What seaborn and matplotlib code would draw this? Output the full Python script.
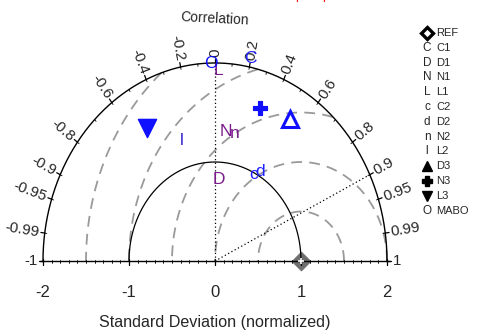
import numpy as np
import matplotlib
matplotlib.use("Agg")
import matplotlib.pyplot as plt
import seaborn as sns

# values (normalized std dev and correlation)
models = ["C1", "D1", "N1", "L1", "C2", "D2", "N2", "L2", "D3", "N3", "L3", "MABO"]
symbols = ["C", "D", "N", "L", "c", "d", "n", "l", "^", "P", "v", "O"]
stddev = [2.09, 0.82, 1.31, 1.92, 0.98, 1.04, 1.31, 1.28, 1.68, 1.63, 1.56, 2.00]
corr = [0.195, 0.057, 0.099, 0.018, 0.46, 0.50, 0.176, -0.30, 0.52, 0.32, -0.51, -0.023]
colors = ["#2020ff", "#7a1a8c", "#7a1a8c", "#7a1a8c", "#2020ff", "#2020ff",
          "#7a1a8c", "#3a2ad0", "#1010ff", "#1010ff", "#1010ff", "#1010ff"]

corr_ticks = [-1, -0.99, -0.95, -0.9, -0.8, -0.6, -0.4, -0.2, 0,
              0.2, 0.4, 0.6, 0.8, 0.9, 0.95, 0.99, 1]
corr_labels = ["-1", "-0.99", "-0.95", "-0.9", "-0.8", "-0.6", "-0.4", "-0.2", "0",
               "0.2", "0.4", "0.6", "0.8", "0.9", "0.95", "0.99", "1"]
std_ticks = [-2, -1, 0, 1, 2]
rms_radii = [0.5, 1.0, 1.5, 2.0, 2.5]
std_max = 2.0

sns.set_theme(style="white")
plt.rcParams["font.family"] = ["Liberation Sans", "DejaVu Sans"]

W, H = 487, 335
fig = plt.figure(figsize=(W / 100, H / 100), dpi=100)
ax = fig.add_axes([0, 0, 1, 1])
xlim = (-2.5, 3.163)
ylim = (-0.747, 2.636)
ax.set_xlim(*xlim)
ax.set_ylim(*ylim)
ax.axis("off")
sx = W / (xlim[1] - xlim[0])
sy = H / (ylim[1] - ylim[0])

t = np.linspace(0, np.pi, 500)

# rms difference arcs around the reference point
for rr in rms_radii:
    x = 1 + rr * np.cos(t)
    y = rr * np.sin(t)
    inside = x ** 2 + y ** 2 <= std_max ** 2 + 1e-9
    ax.plot(np.where(inside, x, np.nan), np.where(inside, y, np.nan),
            color="#9a9a9a", lw=1.3, dashes=(6, 4))

# outer arc and std=1 arc
ax.plot(std_max * np.cos(t), std_max * np.sin(t), color="black", lw=1.0)
ax.plot(np.cos(t), np.sin(t), color="black", lw=0.9)

# baseline with ticks
ax.plot([-2.04, 2.04], [0, 0], color="black", lw=1.0)
for v in np.arange(-20, 21) / 10:
    ax.plot([v, v], [-0.015, 0.015], color="black", lw=0.6)
for v in std_ticks:
    ax.plot([v, v], [-0.04, 0.02], color="black", lw=0.9)
    ax.text(v, -0.32, str(v), ha="center", va="center", fontsize=12)
ax.text(0, -0.62, "Standard Deviation (normalized)", ha="center", va="center", fontsize=11.6)

# dotted reference lines
ax.plot([0, 0], [0, std_max], color="black", lw=0.9, ls=(0, (1, 2)))
th9 = np.arccos(0.9)
ax.plot([0, std_max * np.cos(th9)], [0, std_max * np.sin(th9)],
        color="black", lw=0.9, ls=(0, (1, 2)))

# correlation ticks and labels
for c in np.concatenate([np.arange(-9, 10) / 10, [-0.95, -0.99, 0.95, 0.99]]):
    th = np.arccos(c)
    ax.plot([1.975 * np.cos(th), std_max * np.cos(th)],
            [1.975 * np.sin(th), std_max * np.sin(th)], color="black", lw=0.6)
for c, lab in zip(corr_ticks, corr_labels):
    th = np.arccos(c)
    ax.plot([std_max * np.cos(th), 2.045 * np.cos(th)],
            [std_max * np.sin(th), 2.045 * np.sin(th)], color="black", lw=0.9)
    ang = np.degrees(np.arctan2(np.sin(th) * sy, np.cos(th) * sx))
    px, py = 2.065 * np.cos(th), 2.065 * np.sin(th)
    if c >= 0:
        ax.text(px, py, lab, rotation=ang, ha="left", va="center",
                rotation_mode="anchor", fontsize=10.8)
    else:
        ax.text(px, py, lab, rotation=ang - 180, ha="right", va="center",
                rotation_mode="anchor", fontsize=10.8)
ax.text(0, 2.45, "Correlation", rotation=-3, ha="center", va="center", fontsize=10)

# reference point
sns.scatterplot(x=[1.0], y=[0.0], marker="D", s=90, color="#6e6e6e", edgecolor="#6e6e6e", ax=ax)
ax.plot(1.0, 0.0, marker="+", ms=5, mew=1.2, color="white")

# models
for sym, s, c, col in zip(symbols, stddev, corr, colors):
    xv = s * c
    yv = s * np.sqrt(1 - c ** 2)
    if sym == "^":
        ax.plot(xv, yv, marker="^", ms=11, mfc="none", mec=col, mew=2.2)
    elif sym in ("v", "P"):
        sns.scatterplot(x=[xv], y=[yv], marker=sym, s=170 if sym == "v" else 110,
                        color=col, edgecolor=col, ax=ax)
    else:
        ax.text(xv, yv, sym, color=col, ha="center", va="center", fontsize=12.5)

# legend drawn as a column on the right
leg_names = ["REF"] + models
leg_syms = ["ref"] + symbols
for i, (sym, name) in enumerate(zip(leg_syms, leg_names)):
    fy = 1 - (33 + i * 14.8) / H
    fx = 427 / W
    if sym == "ref":
        ax.plot(fx, fy, marker="D", ms=6.5, mfc="white", mec="black", mew=2.4,
                transform=ax.transAxes)
    elif sym in ("^", "v", "P"):
        ax.plot(fx, fy, marker=sym, ms=7.5, color="black", transform=ax.transAxes)
    else:
        ax.text(fx, fy, sym, ha="center", va="center", fontsize=8.5, transform=ax.transAxes)
    ax.text(436 / W, fy, name, ha="left", va="center", fontsize=8, transform=ax.transAxes)

# clipped red text at the very top edge
fig.text(295 / W, 1 + 1 / H, "p", color="red", fontsize=9, va="baseline")
fig.text(322 / W, 1 + 1 / H, "p", color="red", fontsize=9, va="baseline")

fig.savefig("out.png", dpi=100)
